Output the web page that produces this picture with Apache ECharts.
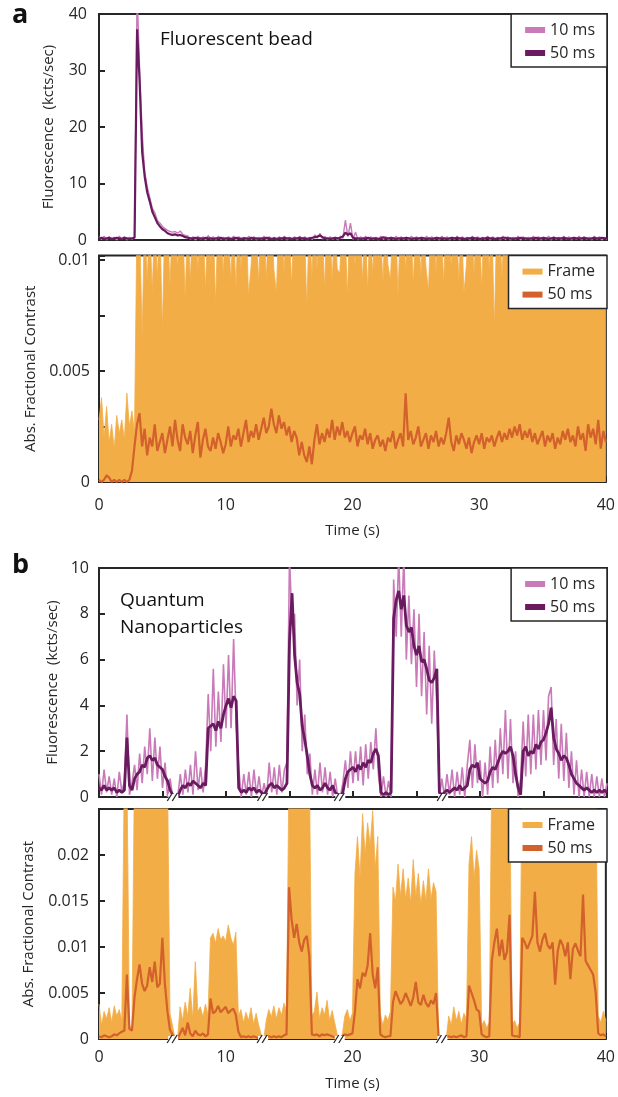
<!DOCTYPE html>
<html>
<head>
<meta charset="UTF-8">
<script src="https://cdn.jsdelivr.net/npm/echarts@6/dist/echarts.min.js"></script>
<style>
html, body { margin: 0; padding: 0; background: #fff; }
#chart { width: 618px; height: 1097px; }
</style>
</head>
<body>
<div id="chart"></div>
<script type="text/javascript">
// sampling grid: one point every 0.2 s from 0 to 40 s (201 points)
var time = [];
for (var i = 0; i <= 200; i++) time.push(+(i * 0.2).toFixed(1));

// panel a, fluorescence (kcts/sec)
var aFluo10 = [
  0.6,0.1,0.7,0.0,0.6, 0.1,0.5,0.0,0.7,0.1,
  0.6,0.0,0.5,0.1,0.6, 44,30,19,12,9.4,
  7.5,5.6,4.8,3.4,3.0, 2.4,2.0,1.7,1.5,1.4,
  1.5,1.2,1.6,1.0,0.8, 0.7,0.1,0.6,0.0,0.7,
  0.1,0.6,0.0,0.8,0.1, 0.6,0.0,0.7,0.1,0.5,
  0.0,0.6,0.1,0.7,0.0, 0.6,0.1,0.5,0.0,0.7,
  0.1,0.6,0.0,0.5,0.1, 0.7,0.0,0.6,0.1,0.5,
  0.0,0.6,0.1,0.7,0.0, 0.5,0.1,0.6,0.0,0.7,
  0.1,0.6,0.0,0.5,0.1, 0.9,0.3,1.2,0.2,0.6,
  0.0,0.6,0.1,0.5,0.0, 0.7,0.3,3.5,0.6,3.0,
  0.1,1.4,0.0,0.6,0.1, 0.7,0.0,0.6,0.1,0.5,
  0.0,0.7,0.1,0.6,0.0, 0.5,0.1,0.7,0.0,0.6,
  0.1,0.5,0.0,0.7,0.1, 0.6,0.0,0.5,0.1,0.7,
  0.0,0.6,0.1,0.5,0.0, 0.7,0.1,0.6,0.0,0.5,
  0.1,0.7,0.0,0.6,0.1, 0.5,0.0,0.7,0.1,0.6,
  0.0,0.5,0.1,0.7,0.0, 0.6,0.1,0.5,0.0,0.7,
  0.1,0.6,0.0,0.5,0.1, 0.7,0.0,0.6,0.1,0.5,
  0.0,0.7,0.1,0.6,0.0, 0.5,0.1,0.7,0.0,0.6,
  0.1,0.5,0.0,0.7,0.1, 0.6,0.0,0.5,0.1,0.7,
  0.0,0.6,0.1,0.5,0.0, 0.7,0.1,0.6,0.0,0.5,
  0.1
];
var aFluo50 = [
  0.3,0.4,0.2,0.3,0.4, 0.2,0.3,0.4,0.3,0.2,
  0.4,0.3,0.2,0.3,0.4, 37.3,28,15.5,11.2,8.4,
  6.8,5.0,4.0,3.0,2.4, 1.9,1.6,1.2,1.0,0.9,
  1.0,0.8,0.9,0.7,0.5, 0.4,0.3,0.3,0.4,0.3,
  0.3,0.2,0.4,0.3,0.3, 0.2,0.3,0.3,0.4,0.2,
  0.3,0.3,0.2,0.3,0.4, 0.3,0.2,0.3,0.3,0.2,
  0.4,0.3,0.3,0.2,0.3, 0.3,0.4,0.3,0.2,0.3,
  0.2,0.3,0.3,0.4,0.3, 0.3,0.2,0.3,0.3,0.4,
  0.3,0.3,0.2,0.3,0.4, 0.5,0.6,0.8,0.5,0.3,
  0.3,0.2,0.3,0.4,0.3, 0.4,0.6,1.3,0.9,1.2,
  0.4,0.3,0.3,0.2,0.3, 0.3,0.4,0.2,0.3,0.3,
  0.2,0.3,0.5,0.3,0.3, 0.4,0.3,0.2,0.3,0.3,
  0.3,0.4,0.3,0.2,0.3, 0.3,0.3,0.4,0.3,0.2,
  0.3,0.2,0.3,0.4,0.3, 0.3,0.3,0.2,0.3,0.4,
  0.3,0.4,0.3,0.3,0.2, 0.3,0.3,0.4,0.3,0.3,
  0.2,0.3,0.3,0.4,0.3, 0.3,0.2,0.3,0.3,0.4,
  0.4,0.3,0.3,0.2,0.3, 0.3,0.4,0.3,0.3,0.2,
  0.3,0.3,0.4,0.3,0.3, 0.4,0.3,0.2,0.3,0.4,
  0.3,0.3,0.3,0.4,0.3, 0.2,0.3,0.4,0.3,0.3,
  0.3,0.4,0.3,0.2,0.3, 0.4,0.3,0.3,0.4,0.3,
  0.3
];
// panel a, abs. fractional contrast, in units of 1e-3
var aFrame = [
  2.8,3.8,2.0,3.4,1.8, 2.6,1.5,3.0,2.2,2.8,
  1.9,4.0,2.5,3.2,2.2, 12,12,6.5,12,9.0,
  12,8.5,12,9.2,12, 6.8,12,12,8.8,12,
  12,9.6,12,12,8.2, 12,9.0,12,12,9.5,
  12,12,8.6,12,9.8, 12,8.0,12,12,9.3,
  12,12,9.0,12,8.7, 12,9.5,12,12,8.4,
  9.7,12,12,8.9,12, 12,9.1,12,12,9.6,
  8.5,12,12,9.4,12, 12,8.8,12,9.9,12,
  12,12,7.8,12,9.2, 12,9.5,12,12,8.7,
  12,12,9.0,12,9.6, 9.4,12,12,8.3,12,
  12,9.7,12,12,9.0, 12,8.6,12,9.3,12,
  12,12,8.9,12,9.8, 9.1,12,12,8.4,12,
  12,9.5,12,12,8.8, 12,12,9.2,12,9.7,
  8.6,12,12,9.4,12, 12,8.9,12,12,9.6,
  12,12,9.0,12,8.5, 9.8,12,12,9.3,12,
  12,8.7,12,12,9.5, 12,6.9,12,12,9.2,
  12,12,9.6,12,12, 12,9.8,12,12,12,
  12,12,12,9.5,12, 12,12,12,12,12,
  12,12,9.6,12,12, 12,12,12,12,12,
  12,12,12,9.8,12, 12,12,12,12,12,
  12
];
var aContrast50 = [
  0.1,0.0,0.1,0.3,0.2, 0.0,0.1,0.0,0.1,0.0,
  0.1,0.0,0.1,0.5,1.6, 2.6,3.1,1.6,2.4,1.2,
  2.0,1.6,2.6,1.4,1.8, 2.2,1.3,1.9,2.5,1.6,
  2.8,1.9,1.4,2.6,2.0, 1.7,2.3,1.3,2.1,2.7,
  1.1,1.9,2.4,1.6,1.4, 2.0,1.5,2.2,1.8,1.3,
  1.7,2.5,1.6,2.1,1.9, 2.4,1.6,2.2,2.8,1.8,
  2.3,2.0,2.6,1.9,2.4, 2.9,2.2,2.5,3.3,2.6,
  2.2,3.0,2.4,2.7,2.1, 2.5,1.8,2.3,2.0,1.2,
  1.8,1.2,0.9,1.6,0.8, 1.9,2.6,1.7,2.2,1.8,
  2.4,2.0,2.8,1.9,2.5, 2.1,2.7,2.0,2.3,1.8,
  2.2,2.5,1.6,2.1,1.9, 2.4,1.7,2.2,1.5,1.9,
  2.1,1.6,1.9,1.4,2.0, 1.8,2.3,1.5,1.9,2.2,
  1.6,4.0,1.9,2.3,1.7, 2.0,2.5,1.6,1.9,2.2,
  1.5,2.1,1.8,2.3,1.6, 2.0,1.7,2.2,2.9,1.8,
  1.4,2.1,1.7,2.2,1.9, 1.5,2.0,1.3,1.8,2.1,
  1.7,2.2,1.5,2.0,1.8, 2.1,1.6,2.0,2.3,1.8,
  2.2,1.9,2.4,2.0,2.5, 2.1,2.6,1.9,2.3,2.0,
  2.4,1.8,2.2,1.7,2.0, 2.3,1.6,2.1,1.8,2.2,
  1.5,2.0,1.7,2.3,1.9, 2.4,1.8,2.1,1.6,2.5,
  1.9,2.2,1.4,2.6,2.0, 2.4,1.7,2.8,1.5,2.3,
  1.8
];

// panel b, fluorescence (kcts/sec)
var bFluo10 = [
  1.0,0.1,1.2,0.2,0.9, 0.1,0.8,0.0,1.1,0.2,
  0.7,3.6,0.1,0.6,1.4, 0.3,1.9,0.6,2.2,1.0,
  3.0,0.7,2.6,0.8,2.2, 0.4,1.5,0.0,0.8,0.0,
  0.0,0.0,1.0,0.1,1.2, 0.2,1.4,0.1,2.0,0.3,
  1.3,0.2,1.4,4.5,2.0, 5.6,2.2,4.6,2.4,5.8,
  3.0,6.2,3.0,6.9,3.2, 1.3,0.0,1.0,0.1,1.1,
  0.0,1.2,0.1,0.9,0.0, 0.6,0.0,1.5,0.2,1.3,
  0.1,1.4,0.2,1.2,1.5, 10.5,7.5,8.0,4.0,6.0,
  2.0,3.6,1.0,1.9,0.1, 1.2,0.1,1.5,0.2,1.3,
  0.1,1.1,0.0,0.8,0.0, 0.0,0.6,1.6,0.4,2.0,
  0.6,2.0,0.7,2.2,0.5, 2.3,0.8,2.4,1.2,3.0,
  1.0,0.0,0.9,0.0,0.7, 0.0,9.5,7.0,10.5,7.0,
  10.5,6.0,8.8,5.8,8.2, 4.8,8.0,4.4,7.2,3.6,
  6.6,3.2,6.4,4.0,0.0, 0.8,0.0,1.0,0.1,1.2,
  0.0,1.1,0.1,1.3,0.0, 1.4,2.5,0.4,2.3,0.6,
  1.6,0.0,1.5,0.1,2.2, 0.4,2.5,0.6,3.0,1.0,
  3.8,0.8,3.4,0.6,2.0, 0.0,0.8,3.3,0.9,3.6,
  1.0,3.6,1.2,3.8,1.4, 3.8,1.6,4.4,4.8,1.4,
  3.4,0.8,3.2,0.7,2.8, 0.4,2.0,0.1,1.6,0.0,
  1.2,0.0,1.1,0.0,1.0, 0.0,0.9,0.0,0.8,0.0,
  0.6
];
var bFluo50 = [
  0.4,0.3,0.5,0.3,0.4, 0.3,0.4,0.2,0.3,0.2,
  0.3,2.6,0.5,0.3,0.8, 1.0,1.1,1.4,1.3,1.7,
  1.8,1.6,1.7,1.4,1.3, 1.2,0.9,0.7,0.3,0.1,
  0.0,0.0,0.3,0.5,0.4, 0.6,0.5,0.7,0.6,0.5,
  0.4,0.6,0.5,3.0,3.1, 3.2,2.9,3.3,3.0,3.6,
  4.0,4.3,3.9,4.4,4.2, 0.4,0.2,0.3,0.2,0.4,
  0.3,0.4,0.2,0.3,0.2, 0.1,0.3,0.5,0.6,0.4,
  0.5,0.4,0.3,0.4,0.6, 6.8,8.9,6.2,5.0,4.5,
  3.1,2.5,1.8,1.0,0.5, 0.4,0.5,0.3,0.4,0.6,
  0.4,0.3,0.5,0.2,0.1, 0.0,0.2,0.8,1.1,1.2,
  1.3,1.1,1.4,1.2,1.5, 1.3,1.6,1.5,1.9,2.1,
  1.8,0.2,0.1,0.2,0.1, 0.2,7.8,8.6,9.0,8.2,
  8.8,7.5,7.2,7.4,6.6, 6.2,6.6,5.9,6.0,5.6,
  5.1,5.0,5.2,5.6,0.2, 0.1,0.2,0.3,0.2,0.3,
  0.4,0.3,0.5,0.3,0.4, 0.5,1.2,1.4,1.3,1.5,
  0.8,0.7,0.6,0.7,1.1, 1.3,1.2,1.5,1.8,2.0,
  1.9,2.0,2.2,1.8,1.0, 0.4,0.1,2.0,2.2,1.8,
  2.0,1.9,2.3,2.1,2.4, 2.5,2.8,3.2,3.9,2.6,
  2.1,1.9,1.6,1.8,1.7, 1.4,1.0,0.8,0.6,0.5,
  0.4,0.3,0.4,0.3,0.2, 0.3,0.2,0.3,0.2,0.3,
  0.2
];
// panel b, abs. fractional contrast, in units of 1e-3 (30 = off scale)
var bFrame = [
  3.8,1.5,3.0,2.2,3.4, 1.8,3.6,2.5,3.2,2.0,
  30,30,1.5,1.0,30, 30,30,30,30,30,
  30,30,30,30,30, 30,30,30,2.8,1.5,
  0.0,0.0,3.5,2.0,4.0, 2.5,5.5,2.2,8.4,3.0,
  3.5,2.4,3.8,2.6,11.0, 11.5,10.4,12.0,10.8,11.2,
  10.6,12.4,11.0,10.2,11.6, 2.5,3.2,1.8,2.9,2.0,
  3.4,1.6,2.8,1.5,0.5, 0.0,2.0,3.2,2.4,3.6,
  2.2,3.4,2.6,3.9,3.0, 30,30,30,30,30,
  30,30,30,30,2.5, 3.0,5.1,2.2,3.4,2.6,
  4.2,2.0,3.1,1.8,0.5, 0.0,0.5,2.5,3.2,2.0,
  2.8,18.0,22.0,17.5,24.5, 20.0,23.5,21.0,24.8,18.5,
  22.0,2.8,1.5,2.6,2.0, 3.0,16.5,15.0,19.0,15.5,
  18.5,15.2,17.5,14.8,19.5, 15.5,18.0,14.6,17.2,15.0,
  18.5,15.2,17.0,16.0,0.0, 0.0,0.0,0.0,2.5,1.5,
  3.5,2.0,3.0,1.6,2.8, 2.2,19.0,22.0,17.5,20.5,
  18.5,1.5,2.0,1.2,1.8, 30,30,30,30,30,
  30,30,30,1.5,2.0, 1.2,1.8,30,30,30,
  30,30,30,30,30, 30,30,30,30,30,
  30,30,30,30,30, 30,30,30,30,30,
  30,30,30,30,30, 30,30,2.5,1.8,3.0,
  2.0
];
var bContrast50 = [
  0.3,0.2,0.4,0.3,0.2, 0.3,0.5,0.4,0.6,0.8,
  0.9,7.0,1.1,0.9,4.5, 6.5,8.1,6.0,5.2,5.8,
  7.8,6.2,8.4,5.6,6.0, 11.0,6.0,3.0,1.0,0.5,
  0.0,0.0,0.6,1.2,0.4, 1.8,0.6,0.3,0.9,0.5,
  0.4,0.6,0.3,0.5,4.4, 2.8,3.0,3.6,2.9,3.2,
  3.5,2.8,3.1,3.3,2.6, 0.8,0.2,0.3,0.2,0.3,
  0.2,0.3,0.2,0.1,0.2, 0.0,0.2,0.3,0.2,0.3,
  0.2,0.3,0.2,0.4,0.5, 16.5,13.0,11.0,12.5,10.5,
  9.5,10.8,11.2,9.0,0.5, 0.4,0.5,0.3,0.5,0.4,
  0.5,0.4,0.3,0.2,0.1, 0.0,0.3,0.5,0.4,0.5,
  0.6,3.0,6.5,5.5,7.2, 6.8,8.0,11.5,7.0,5.5,
  7.8,0.5,0.3,0.2,0.3, 0.3,4.0,5.2,4.5,3.8,
  4.2,5.0,4.3,3.6,4.5, 6.2,4.0,3.7,4.8,3.9,
  3.5,4.2,3.8,5.0,0.3, 0.0,0.0,0.2,0.3,0.2,
  0.3,0.2,0.3,0.4,0.2, 0.3,5.8,5.0,4.2,3.2,
  3.0,0.5,0.3,0.2,0.3, 8.5,10.5,12.0,9.0,10.8,
  8.6,9.5,13.5,0.4,0.3, 0.3,0.2,11.0,10.5,9.8,
  10.5,11.2,16.0,10.5,9.5, 10.8,11.5,10.2,9.8,10.5,
  5.9,9.5,10.8,10.2,9.0, 10.5,6.5,9.8,10.4,9.6,
  9.0,15.7,8.5,8.0,7.5, 7.0,5.0,0.6,0.4,0.5,
  0.3
];

// broken-axis positions in panel b (s)
var breakTimes = [5.85, 12.95, 19.0, 27.1];
// y tick labels that are written out
var aContrastTicks = [0, 0.005, 0.01];
var bContrastTicks = [0, 0.005, 0.01, 0.015, 0.02];

var FONT = '"Open Sans", sans-serif';
var INK = '#262626';
var C10 = '#c97ab8', C50 = '#6a1b5f', CFR = '#f3ad47', CC50 = '#d3612b';
var legendNames = { a10: '10 ms', a50: '50 ms', aFr: 'Frame', aC50: '50 ms',
                    b10: '10 ms', b50: '50 ms', bFr: 'Frame', bC50: '50 ms' };

function pts(vals, k) {
  return vals.map(function (v, i) { return [time[i], v * (k || 1)]; });
}

var myChart = echarts.init(document.getElementById('chart'));

function gridBox(top, height) {
  return { left: 99, top: top, width: 508, height: height, show: true,
           borderColor: INK, borderWidth: 2, backgroundColor: 'transparent' };
}

var tickIn = { show: true, inside: true, length: 6, lineStyle: { color: INK, width: 2 } };
var lblStyle = { color: INK, fontSize: 16, fontFamily: FONT };
var nameStyle = { color: INK, fontSize: 15, fontFamily: FONT };

// x axis: labels only every 10 s, name "Time (s)" on the lower panels
function xAx(grid, interval, labelMargin, nameGap, ticks) {
  var ax = {
    gridIndex: grid, type: 'value', min: 0, max: 40, interval: interval,
    axisLine: { show: false }, splitLine: { show: false },
    axisTick: ticks ? tickIn : { show: false },
    axisLabel: labelMargin ? Object.assign({ margin: labelMargin, formatter: function (v) {
      return v % 10 === 0 ? String(v) : '';
    } }, lblStyle) : { show: false }
  };
  if (labelMargin) {
    ax.name = 'Time (s)';
    ax.nameLocation = 'middle';
    ax.nameGap = nameGap;
    ax.nameTextStyle = nameStyle;
  }
  return ax;
}

function yAx(grid, max, interval, name, gap, margin, shown) {
  return {
    gridIndex: grid, type: 'value', min: 0, max: max, interval: interval,
    name: name, nameLocation: 'middle', nameGap: gap, nameTextStyle: nameStyle,
    axisLine: { show: false }, splitLine: { show: false }, axisTick: tickIn,
    axisLabel: Object.assign({ margin: margin, formatter: function (v) {
      var r = +v.toFixed(4);
      if (shown && shown.indexOf(r) < 0) return '';
      return String(r);
    } }, lblStyle)
  };
}

function legendAt(top, names) {
  return {
    top: top, right: 11, orient: 'vertical', data: names, icon: 'rect',
    itemWidth: 20, itemHeight: 6, itemGap: 7, padding: [8, 12, 6, 14],
    borderColor: INK, borderWidth: 1.5, backgroundColor: '#fff', selectedMode: false,
    textStyle: { color: INK, fontSize: 16, fontFamily: FONT },
    formatter: function (n) { return legendNames[n]; }
  };
}

function line(name, axis, vals, k, color, width, area) {
  var s = {
    name: name, type: 'line', xAxisIndex: axis, yAxisIndex: axis,
    data: pts(vals, k), showSymbol: false, symbol: 'none', color: color,
    lineStyle: { color: color, width: width }, silent: true, clip: true
  };
  if (area) s.areaStyle = { color: color, opacity: 1 };
  return s;
}

function renderBreak(params, api) {
  var p = api.coord([api.value(0), api.value(1)]);
  return {
    type: 'group',
    children: [
      { type: 'rect', shape: { x: p[0] - 5, y: p[1] - 3, width: 10, height: 6 }, style: { fill: '#fff' } },
      { type: 'line', shape: { x1: p[0] - 6, y1: p[1] + 4, x2: p[0] - 1, y2: p[1] - 4 }, style: { stroke: INK, lineWidth: 1.3 } },
      { type: 'line', shape: { x1: p[0] - 1, y1: p[1] + 4, x2: p[0] + 4, y2: p[1] - 4 }, style: { stroke: INK, lineWidth: 1.3 } }
    ]
  };
}

function breaks(axis) {
  return {
    type: 'custom', xAxisIndex: axis, yAxisIndex: axis, z: 6, silent: true, clip: false,
    data: breakTimes.map(function (t) { return [t, 0]; }), renderItem: renderBreak
  };
}

var option = {
  animation: false,
  backgroundColor: '#fff',
  grid: [gridBox(14, 226), gridBox(255.6, 226.4), gridBox(568, 229), gridBox(809, 230)],
  xAxis: [xAx(0, 10, 0, 0, false), xAx(1, 10, 15, 41, true), xAx(2, 5, 0, 0, true), xAx(3, 5, 10, 37, true)],
  yAxis: [
    yAx(0, 40, 10, 'Fluorescence  (kcts/sec)', 43, 12, null),
    yAx(1, 0.0102, 0.0025, 'Abs. Fractional Contrast', 58, 9, aContrastTicks),
    yAx(2, 10, 2, 'Fluorescence  (kcts/sec)', 34, 10, null),
    yAx(3, 0.025, 0.005, 'Abs. Fractional Contrast', 63, 10, bContrastTicks)
  ],
  legend: [
    legendAt(14, ['a10', 'a50']),
    legendAt(255.6, ['aFr', 'aC50']),
    legendAt(568, ['b10', 'b50']),
    legendAt(809, ['bFr', 'bC50'])
  ],
  graphic: [
    { type: 'text', left: 12, top: 2, style: { text: 'a', fontSize: 27, fontWeight: 'bold', fontFamily: FONT, fill: '#111' } },
    { type: 'text', left: 12, top: 552, style: { text: 'b', fontSize: 27, fontWeight: 'bold', fontFamily: FONT, fill: '#111' } },
    { type: 'text', left: 160, top: 30, style: { text: 'Fluorescent bead', fontSize: 19, fontFamily: FONT, fill: '#111' } },
    { type: 'text', left: 120, top: 587, style: { text: 'Quantum\nNanoparticles', fontSize: 19, lineHeight: 27, fontFamily: FONT, fill: '#111' } }
  ],
  series: [
    line('a10', 0, aFluo10, 1, C10, 1.4),
    line('a50', 0, aFluo50, 1, C50, 2.2),
    line('aFr', 1, aFrame, 0.001, CFR, 0.8, true),
    line('aC50', 1, aContrast50, 0.001, CC50, 2.2),
    line('b10', 2, bFluo10, 1, C10, 1.6),
    line('b50', 2, bFluo50, 1, C50, 2.8),
    line('bFr', 3, bFrame, 0.001, CFR, 0.8, true),
    line('bC50', 3, bContrast50, 0.001, CC50, 2.2),
    breaks(2),
    breaks(3)
  ]
};

myChart.setOption(option, true);
</script>
</body>
</html>
